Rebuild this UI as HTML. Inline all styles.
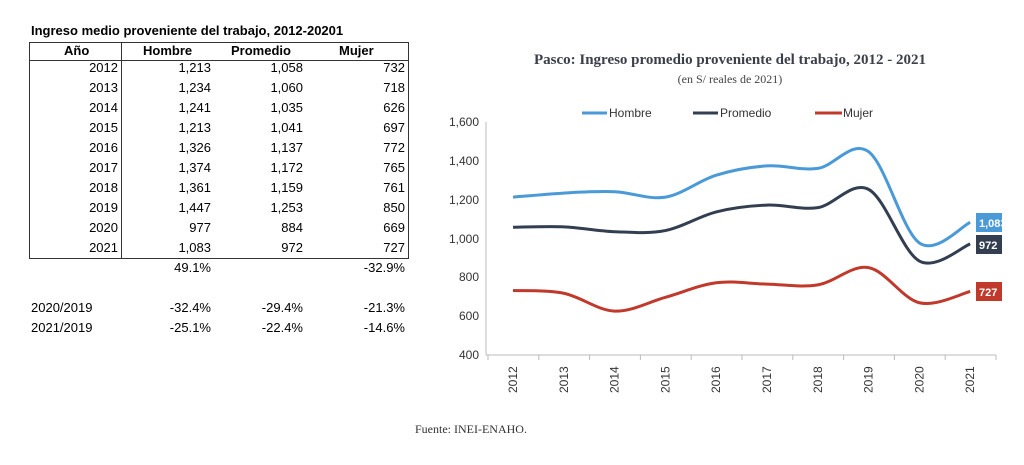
<!DOCTYPE html>
<html><head><meta charset="utf-8"><style>
body{margin:0;width:1024px;height:465px;background:#fff;overflow:hidden;position:relative;font-family:"Liberation Sans",sans-serif}
.t{position:absolute;font-size:13px;color:#000;white-space:nowrap}
.r{text-align:right}
</style></head><body>
<div class="t" style="left:31px;top:23px;font-weight:bold;font-size:13px">Ingreso medio proveniente del trabajo, 2012-20201</div>
<div style="position:absolute;left:29px;top:42px;width:378px;height:215px;border:1px solid #333"></div>
<div style="position:absolute;left:29px;top:60px;width:380px;height:1px;background:#333"></div>
<div style="position:absolute;left:121px;top:42px;width:1px;height:217px;background:#333"></div>
<div id="tbl"></div>
<div style="position:absolute;left:415px;top:422px;font-family:'Liberation Serif',serif;font-size:12px;color:#333">Fuente: INEI-ENAHO.</div>
<svg width="1024" height="465" style="position:absolute;left:0;top:0" id="s">
<text x="730" y="64" text-anchor="middle" font-family="Liberation Serif" font-weight="bold" font-size="15" fill="#3a3f4a">Pasco: Ingreso promedio proveniente del trabajo, 2012 - 2021</text>
<text x="730" y="83" text-anchor="middle" font-family="Liberation Serif" font-size="12" fill="#444">(en S/ reales de 2021)</text>
<line x1="486" y1="122" x2="486" y2="355" stroke="#bbb"/>
<line x1="486" y1="355" x2="996" y2="355" stroke="#bbb"/>
<g font-size="12" fill="#333" text-anchor="end">
<text x="479" y="126">1,600</text><text x="479" y="165">1,400</text><text x="479" y="204">1,200</text><text x="479" y="243">1,000</text><text x="479" y="281">800</text><text x="479" y="320">600</text><text x="479" y="359">400</text></g>
<line x1="582" y1="113" x2="607" y2="113" stroke="#4a9ad8" stroke-width="3"/><text x="609" y="117" font-size="12" fill="#333">Hombre</text>
<line x1="693" y1="113" x2="718" y2="113" stroke="#333f50" stroke-width="3"/><text x="720" y="117" font-size="12" fill="#333">Promedio</text>
<line x1="815" y1="113" x2="842" y2="113" stroke="#c0392b" stroke-width="3"/><text x="843" y="117" font-size="12" fill="#333">Mujer</text>
<g id="g"></g>
<rect x="976" y="213" width="26" height="19" fill="#4a9ad8"/><text x="979" y="227" font-size="11" font-weight="bold" fill="#fff">1,083</text>
<rect x="976" y="235" width="26" height="19" fill="#333f50"/><text x="979" y="249" font-size="11" font-weight="bold" fill="#fff">972</text>
<rect x="976" y="282" width="26" height="19" fill="#c0392b"/><text x="979" y="296" font-size="11" font-weight="bold" fill="#fff">727</text>
</svg>
<script>
var yrs=[2012,2013,2014,2015,2016,2017,2018,2019,2020,2021];
var H=[1213,1234,1241,1213,1326,1374,1361,1447,977,1083],P=[1058,1060,1035,1041,1137,1172,1159,1253,884,972],M=[732,718,626,697,772,765,761,850,669,727];
var s='';
yrs.forEach(function(y,i){var top=60+i*20;
s+='<div class="t r" style="left:40px;width:78px;top:'+top+'px">'+y+'</div>';
[[H,211],[P,303],[M,405]].forEach(function(a){s+='<div class="t r" style="left:'+(a[1]-90)+'px;width:90px;top:'+top+'px">'+a[0][i].toLocaleString('en-US')+'</div>'});});
s+='<div class="t" style="left:64px;top:43px;font-weight:bold;font-size:13px">Año</div><div class="t" style="left:143px;top:43px;font-weight:bold">Hombre</div><div class="t" style="left:231px;top:43px;font-weight:bold">Promedio</div><div class="t" style="left:339px;top:43px;font-weight:bold">Mujer</div>';
function row(top,l,a){s+='<div class="t" style="left:31px;top:'+top+'px">'+l+'</div>';[211,303,405].forEach(function(x,k){if(a[k])s+='<div class="t r" style="left:'+(x-90)+'px;width:90px;top:'+top+'px">'+a[k]+'</div>'})}
row(260,'',['49.1%','','-32.9%']);row(300,'2020/2019',['-32.4%','-29.4%','-21.3%']);row(320,'2021/2019',['-25.1%','-22.4%','-14.6%']);
document.getElementById('tbl').innerHTML=s;
var g='';
for(var i=0;i<=10;i++){var x=488+i*50.8;g+='<line x1="'+x+'" y1="355" x2="'+x+'" y2="360" stroke="#bbb"/>';}
yrs.forEach(function(y,i){var x=513+i*50.8;g+='<text transform="translate('+(x+4)+',393) rotate(-90)" font-size="12" fill="#333">'+y+'</text>'});
function Y(v){return 355-(v-400)*233/1200}
function path(d,c){var p=d.map(function(v,i){return[513+i*50.8,Y(v)]});var str='M'+p[0];
for(var i=0;i<p.length-1;i++){var p0=p[i-1]||p[i],p1=p[i],p2=p[i+1],p3=p[i+2]||p2;
str+=' C'+(p1[0]+(p2[0]-p0[0])/6)+','+(p1[1]+(p2[1]-p0[1])/6)+' '+(p2[0]-(p3[0]-p1[0])/6)+','+(p2[1]-(p3[1]-p1[1])/6)+' '+p2;}
return '<path d="'+str+'" fill="none" stroke="'+c+'" stroke-width="3"/>'}
g+=path(H,'#4a9ad8')+path(P,'#333f50')+path(M,'#c0392b');
document.getElementById('g').innerHTML=g;
</script>
</body></html>
